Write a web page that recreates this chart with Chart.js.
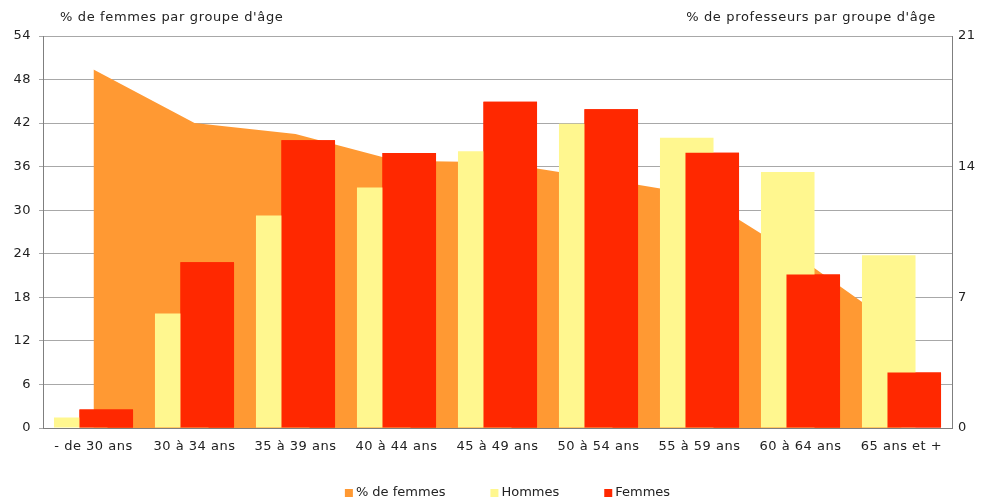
<!DOCTYPE html>
<html lang="fr">
<head>
<meta charset="utf-8">
<script src="https://cdn.jsdelivr.net/npm/chart.js@4/dist/chart.umd.min.js"></script>
<style>
  html, body { margin: 0; padding: 0; background: #fff; }
  #cadre { width: 985px; height: 500px; }
</style>
</head>
<body>
<div id="cadre"><canvas id="graphique"></canvas></div>
<script>
// groupes d'âge
const groupes = ['- de 30 ans', '30 à 34 ans', '35 à 39 ans', '40 à 44 ans', '45 à 49 ans',
  '50 à 54 ans', '55 à 59 ans', '60 à 64 ans', '65 ans et +'];
// % de femmes par groupe d'âge (axe de gauche)
const partFemmes = [49.4, 42.0, 40.5, 36.8, 36.6, 34.4, 32.1, 23.4, 13.5];
// % de professeurs par groupe d'âge (axe de droite)
const hommes = [0.56, 6.13, 11.38, 12.88, 14.82, 16.3, 15.55, 13.71, 9.25];
const femmes = [0.99, 8.88, 15.41, 14.73, 17.48, 17.07, 14.75, 8.22, 2.97];
const ticksGauche = [0, 6, 12, 18, 24, 30, 36, 42, 48, 54];
const ticksDroite = [0, 7, 14, 21];

const police = '"DejaVu Sans", Verdana, sans-serif';
const couleurTexte = '#222';

// texte un peu espacé, comme l'original
const espacement = {
  id: 'espacement',
  beforeLayout(chart) { chart.ctx.letterSpacing = '0.5px'; },
  beforeDraw(chart) { chart.ctx.letterSpacing = '0.5px'; },
};

// les barres rouges passent devant les jaunes
const femmesDessus = {
  id: 'femmesDessus',
  afterDatasetsDraw(chart) {
    chart.getDatasetMeta(2).controller.draw();
  }
};

// titres des deux axes et légende en bas
const textes = {
  id: 'textes',
  afterDraw(chart) {
    const ctx = chart.ctx;
    const zone = chart.chartArea;
    ctx.save();
    ctx.letterSpacing = '0.65px';
    ctx.font = '13px ' + police;
    ctx.fillStyle = couleurTexte;
    ctx.textBaseline = 'middle';
    ctx.textAlign = 'left';
    ctx.fillText("% de femmes par groupe d'âge", 60, 18);
    ctx.textAlign = 'right';
    ctx.fillText("% de professeurs par groupe d'âge", 936, 18);

    ctx.letterSpacing = '0px';
    ctx.font = '13px ' + police;
    ctx.textAlign = 'left';
    const items = chart.data.datasets.map(d => ({ texte: d.label, couleur: d.backgroundColor }));
    const largeurs = items.map(it => 11 + ctx.measureText(it.texte).width);
    const ecart = 45;
    const total = largeurs.reduce((a, b) => a + b, 0) + ecart * (items.length - 1);
    let x = (zone.left + zone.right) / 2 + 10 - total / 2;
    const y = 493;
    items.forEach((it, i) => {
      ctx.fillStyle = it.couleur;
      ctx.fillRect(x, y - 4, 8, 8);
      ctx.fillStyle = couleurTexte;
      ctx.fillText(it.texte, x + 11, y);
      x += largeurs[i] + ecart;
    });
    ctx.restore();
  }
};

new Chart(document.getElementById('graphique'), {
  data: {
    labels: groupes,
    datasets: [
      {
        type: 'line',
        label: '% de femmes',
        data: partFemmes,
        yAxisID: 'y',
        backgroundColor: '#FF9933',
        borderWidth: 0,
        pointRadius: 0,
        fill: 'origin',
        tension: 0,
        order: 3,
      },
      {
        type: 'bar',
        label: 'Hommes',
        data: hommes,
        yAxisID: 'y2',
        backgroundColor: '#FFF78F',
        categoryPercentage: 0.505,
        barPercentage: 2.1,
        order: 1,
      },
      {
        type: 'bar',
        label: 'Femmes',
        data: femmes,
        yAxisID: 'y2',
        backgroundColor: '#FF2800',
        categoryPercentage: 0.505,
        barPercentage: 2.1,
        order: 2,
      },
    ],
  },
  options: {
    responsive: true,
    maintainAspectRatio: false,
    animation: false,
    layout: { padding: { top: 36, left: 0, right: 0, bottom: 0 } },
    plugins: {
      legend: { display: false },
      tooltip: { enabled: false },
    },
    scales: {
      x: {
        offset: true,
        grid: { display: false, drawTicks: false },
        border: { display: true, color: '#7f7f7f' },
        ticks: { color: couleurTexte, font: { family: police, size: 13 }, padding: 11, maxRotation: 0, autoSkip: false },
        afterFit(scale) { scale.height = 72; },
      },
      y: {
        position: 'left',
        min: 0,
        max: 54,
        afterBuildTicks(scale) { scale.ticks = ticksGauche.map(v => ({ value: v })); },
        grid: { color: '#a8a8a8', drawTicks: true, tickLength: 4 },
        border: { display: true, color: '#7f7f7f' },
        ticks: { color: couleurTexte, font: { family: police, size: 13 }, padding: 8 },
        afterFit(scale) { scale.width = 43; },
      },
      y2: {
        position: 'right',
        min: 0,
        max: 21,
        afterBuildTicks(scale) { scale.ticks = ticksDroite.map(v => ({ value: v })); },
        grid: { drawOnChartArea: false, drawTicks: false },
        border: { display: true, color: '#7f7f7f' },
        ticks: { color: couleurTexte, font: { family: police, size: 13 }, padding: 6 },
        afterFit(scale) { scale.width = 33; },
      },
    },
  },
  plugins: [espacement, femmesDessus, textes],
});
</script>
</body>
</html>
